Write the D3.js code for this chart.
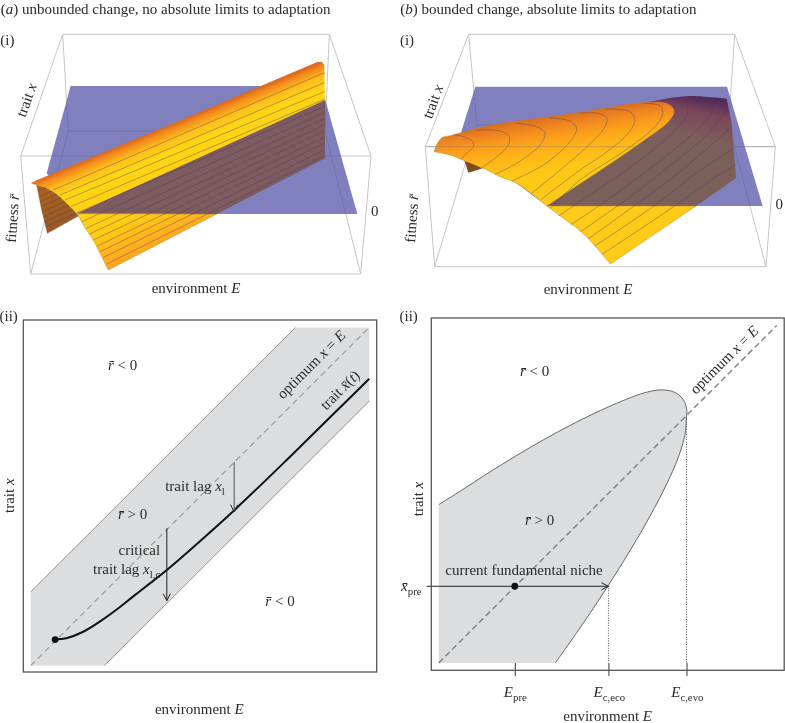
<!DOCTYPE html>
<html>
<head>
<meta charset="UTF-8">
<script src="https://d3js.org/d3.v7.min.js"></script>
<style>
	html, body { margin: 0; padding: 0; background: #fff; }
	svg { display: block; filter: blur(0.35px); }
	text { font-family: "Liberation Serif", serif; fill: #2b2b2b; }
</style>
</head>
<body>
<svg id="chart" width="785" height="723"></svg>
<script>
// ---- (ii) panels, in units of environment E and trait x (0-100 along the optimum) ----
var optimumE = [0, 100];
var bandE = [0, 0, 78.2, 100, 100, 21.8];
var bandX = [0, 21.8, 100, 100, 78.2, 0];
var traitE = [7.2, 10.5, 15.5, 20.4, 25.3, 30.2, 35.2, 40.1, 50, 60.3, 75.6, 89.4, 100];
var traitX = [7.7, 8.1, 10, 13, 16.5, 20.4, 24.3, 28.2, 36.8, 46.1, 60.8, 74.4, 84.8];
var lagE = [60.1, 40.2];
var lagTop = [60.2, 40.6];
var lagBottom = [45.5, 19.2];

var nicheE = [0, 5.9, 15.8, 25.6, 35.5, 45.3, 55.2, 61.1, 66, 70, 72.4, 73.4, 73.3, 72.9, 70.9, 67, 60.1, 50.2, 41.4, 34.5];
var nicheX = [46.9, 50.6, 57, 63, 68.6, 73.6, 78, 80.1, 80.9, 80.1, 77.9, 74.8, 73, 67.9, 61, 52.1, 39.2, 23, 9.8, 0];
var ePre = 22.5, eEco = 50.2, eEvo = 73.3;
var xPre = 22.7, xPreStart = -3.6;
var envTicks = [ePre, eEco, eEvo];
var critX = [23, 73];

// ---- (i) panels, outlines on a 3x reading grid ----
var boxA = { back: [[188,103],[988,103]], front: [[62,468],[1113,468]], bottom: [[92,822],[1082,822]], floor: [[205,393],[975,393]] };
var boxB = { back: [[230,103],[1028,103]], front: [[100,440],[1150,440]], bottom: [[128,800],[1122,800]], floor: [[255,375],[1010,375]] };
var planeA = [[212,258],[964,258],[1072,642],[232,642],[140,520]];
var planeB = [[250,260],[1005,260],[1112,618],[465,618],[200,420]];

var aUpper = [[93,550],[110,541],[520,370],[950,187],[965,185],[973,195],[975,300],[232,640],[218,628],[200,610],[180,590],[160,575],[135,562],[110,555]];
var aUnder = [[232,640],[975,300],[975,475],[650,642]];
var aFront = [[232,640],[650,642],[325,810],[300,760],[280,720],[270,705],[258,688],[245,665]];
var aCap = [[110,555],[135,562],[160,575],[180,590],[200,610],[218,628],[235,648],[142,700],[125,630]];
var aStripeStart = [[160,570],[180,585],[195,600],[212,620],[232,638],[245,665],[258,685],[268,702],[280,720],[292,738],[300,755],[310,772],[320,792]];
var aStripeEnd = [218,248,275,298,320,338,356,375,393,412,430,450,468];
var aCapStripeL = [[114,575],[118,590],[121,605],[124,620],[128,635],[131,650],[134,665],[138,680]];
var aCapStripeR = [514,530,547,563,580,597,613,630];

var bTop = [[126,455],[135,432],[152,412],[174,407],[274,380],[374,363],[474,350],[564,337],[664,320],[764,307],[824,310],[846,330],[834,360],[764,365],[744,430],[664,485],[564,551],[464,618]];
bTop.splice(13, 1);
var bEdge = [[464,618],[374,550],[324,530],[274,505],[224,485],[174,465],[126,455]];
var bUnder = [[464,618],[764,307],[820,296],[864,290],[904,288],[1004,296],[1019,370],[1032,535],[912,618]];
var bFront = [[464,618],[912,618],[655,792],[620,750],[584,710],[550,680],[514,655],[490,637]];
var bCap = [[216,478],[272,505],[229,518]];
var bContours = [
	[[184,403],[214,410],[242,425],[244,440],[224,460],[209,477]],
	[[254,390],[324,393],[352,410],[349,435],[309,475],[269,503]],
	[[374,370],[434,380],[459,400],[444,435],[374,490],[309,523]],
	[[474,354],[534,363],[554,385],[534,425],[454,495],[359,543]],
	[[564,340],[619,340],[644,355],[639,380],[574,450],[419,580]],
	[[644,327],[714,335],[729,360],[704,405],[624,470],[564,510],[448,598]],
	[[754,310],[804,317],[812,340],[789,380],[694,455],[564,540],[475,625]],
	[[864,293],[884,310],[884,345],[844,395],[744,480],[564,605],[500,648]],
	[[924,290],[959,305],[959,340],[914,390],[794,490],[624,615],[535,675]],
	[[1004,330],[944,405],[824,505],[694,605],[566,695]],
	[[1014,385],[864,515],[744,605],[588,717]],
	[[1025,445],[904,525],[804,605],[608,738]],
	[[1030,495],[964,535],[874,600],[630,763]]
];

// ---- labels: [x, y, angle, anchor, parts], on the same reading grid ----
var rbar = "r\u0304", xbar = "x\u0304";
var labelsA = [
	[2, 27, 0, "start", [["("], ["a","i"], [") unbounded change, no absolute limits to adaptation"]]],
	[22, 122, 0, "middle", [["(i)"]]],
	[80, 300, -70, "middle", [["trait "], ["x","i"]]],
	[38, 655, -86, "middle", [["fitness "], [rbar,"i"]]],
	[1124, 633, 0, "middle", [["0"]]],
	[588, 866, 0, "middle", [["environment "], ["E","i"]]]
];
var labelsB = [
	[25, 27, 0, "start", [["("], ["b","i"], [") bounded change, absolute limits to adaptation"]]],
	[45, 122, 0, "middle", [["(i)"]]],
	[123, 305, -70, "middle", [["trait "], ["x","i"]]],
	[60, 655, -86, "middle", [["fitness "], [rbar,"i"]]],
	[1162, 612, 0, "middle", [["0"]]],
	[588, 868, 0, "middle", [["environment "], ["E","i"]]]
];
var labelsAii = [
	[26, 950, 0, "middle", [["(ii)"]]],
	[368, 1095, 0, "middle", [[rbar,"i"], [" < 0"]]],
	[398, 1543, 0, "middle", [[rbar,"i"], [" > 0"]]],
	[840, 1803, 0, "middle", [[rbar,"i"], [" < 0"]]],
	[934, 1094, -45, "middle", [["optimum "], ["x","i"], [" = "], ["E","i"]]],
	[1020, 1170, -45, "middle", [["trait "], [xbar,"i"], ["("], ["t","i"], [")"]]],
	[585, 1458, 0, "middle", [["trait lag "], ["x","i"], ["l","sub"]]],
	[418, 1652, 0, "middle", [["critical"]]],
	[380, 1708, 0, "middle", [["trait lag "], ["x","i"], ["l,c","sub"]]],
	[28, 1487, -90, "middle", [["trait "], ["x","i"]]],
	[598, 2127, 0, "middle", [["environment "], ["E","i"]]]
];
var labelsBii = [
	[50, 950, 0, "middle", [["(ii)"]]],
	[428, 1115, 0, "middle", [[rbar,"i"], [" < 0"]]],
	[443, 1562, 0, "middle", [[rbar,"i"], [" > 0"]]],
	[396, 1711, 0, "middle", [["current fundamental niche"]]],
	[997, 1080, -45, "middle", [["optimum "], ["x","i"], [" = "], ["E","i"]]],
	[58, 1759, 0, "middle", [[xbar,"i"], ["pre","sub"]]],
	[370, 2077, 0, "middle", [["E","i"], ["pre","sub"]]],
	[652, 2077, 0, "middle", [["E","i"], ["c,eco","sub"]]],
	[886, 2077, 0, "middle", [["E","i"], ["c,evo","sub"]]],
	[647, 2148, 0, "middle", [["environment "], ["E","i"]]],
	[80, 1497, -90, "middle", [["trait "], ["x","i"]]]
];

var svg = d3.select("#chart");
var defs = svg.append("defs");

var gridY = d3.scaleLinear().domain([0, 2169]).range([0, 723]);
var gridXa = d3.scaleLinear().domain([0, 1176]).range([0, 392]);
var gridXb = d3.scaleLinear().domain([0, 1179]).range([392, 785]);

var arrow = defs.append("marker").attr("id", "open").attr("viewBox", "-8 -5 9 10")
	.attr("refX", 0).attr("refY", 0).attr("markerUnits", "userSpaceOnUse")
	.attr("markerWidth", 9).attr("markerHeight", 10).attr("orient", "auto");
arrow.append("path").attr("d", "M-7,-3.6L0,0L-7,3.6").attr("fill", "none").attr("stroke", "#222").attr("stroke-width", 1);

function gradient(id, gx, pts, stops) {
	var g = defs.append("linearGradient").attr("id", id).attr("gradientUnits", "userSpaceOnUse")
		.attr("x1", gx(pts[0])).attr("y1", gridY(pts[1])).attr("x2", gx(pts[2])).attr("y2", gridY(pts[3]));
	stops.forEach(function(s) { g.append("stop").attr("offset", s[0]).attr("stop-color", s[1]); });
}

gradient("aGrad", gridXa, [500, 380, 631, 694], [[0, "#dd6a1e"], [0.04, "#f28a1c"], [0.12, "#ffbe1a"], [0.22, "#ffd614"], [0.65, "#ffcb14"], [0.85, "#ffb01e"], [1, "#fba020"]]);
gradient("aCapGrad", gridXa, [120, 560, 180, 690], [[0, "#b0621f"], [1, "#93592f"]]);
gradient("bGrad", gridXb, [480, 345, 526, 641], [[0, "#d96c1e"], [0.1, "#ee8420"], [0.2, "#fa9a1c"], [0.35, "#ffb418"], [0.55, "#ffc816"], [1, "#ffcb18"]]);
gradient("bUnderGrad", gridXb, [900, 290, 860, 500], [[0, "#552a58"], [0.2, "#7c465a"], [0.55, "#7c5e5a"], [1, "#7b6059"]]);

function poly(g, gx, pts, fill) {
	var line = d3.line().x(function(d) { return gx(d[0]); }).y(function(d) { return gridY(d[1]); });
	return g.append("path").attr("d", line(pts) + "Z").attr("fill", fill);
}

function wireBack(g, gx, box) {
	var segs = [box.back, box.floor, box.bottom,
		[box.back[0], box.floor[0]], [box.back[1], box.floor[1]],
		[box.floor[0], box.bottom[0]], [box.floor[1], box.bottom[1]],
		[box.back[0], box.front[0]], [box.back[1], box.front[1]],
		[box.front[0], box.bottom[0]], [box.front[1], box.bottom[1]], box.front];
	g.selectAll("line.wire").data(segs).enter().append("line").attr("class", "wire")
		.attr("x1", function(d) { return gx(d[0][0]); }).attr("y1", function(d) { return gridY(d[0][1]); })
		.attr("x2", function(d) { return gx(d[1][0]); }).attr("y2", function(d) { return gridY(d[1][1]); })
		.attr("stroke", "#c6c6c8").attr("stroke-width", 1);
}

function writeLabels(gx, list) {
	var size = 15;
	var t = svg.append("g").selectAll("text").data(list).enter().append("text")
		.attr("text-anchor", function(d) { return d[3]; })
		.attr("font-size", size)
		.attr("transform", function(d) { return "translate(" + gx(d[0]) + "," + gridY(d[1]) + ") rotate(" + d[2] + ")"; })
		.attr("y", size * 0.32);
	t.each(function(d) {
		var el = d3.select(this), low = false;
		d[4].forEach(function(p) {
			var s = el.append("tspan").text(p[0]);
			if (p[1] == "i") s.attr("font-style", "italic");
			if (p[1] == "sub") { s.attr("font-size", size * 0.72).attr("dy", 4); low = true; }
			else if (low) { s.attr("dy", -4); low = false; }
		});
	});
}

// ---- (a)(i) ----
var a3 = svg.append("g");
wireBack(a3, gridXa, boxA);
poly(a3, gridXa, planeA, "rgba(85,85,170,0.75)");
poly(a3, gridXa, aUnder, "#7d5a5e");
poly(a3, gridXa, aCap, "url(#aCapGrad)").attr("stroke", "#8a5526").attr("stroke-width", 0.4);
poly(a3, gridXa, aUpper, "url(#aGrad)");
poly(a3, gridXa, aFront, "url(#aGrad)").attr("stroke", "#b88a30").attr("stroke-width", 0.5);

defs.append("clipPath").attr("id", "aCapClip").append("path")
	.attr("d", d3.line().x(function(d) { return gridXa(d[0]); }).y(function(d) { return gridY(d[1]); })(aCap) + "Z");
a3.append("g").attr("clip-path", "url(#aCapClip)").selectAll("line").data(aCapStripeL).enter().append("line")
	.attr("x1", function(d) { return gridXa(d[0]); }).attr("y1", function(d) { return gridY(d[1]); })
	.attr("x2", gridXa(250)).attr("y2", function(d, i) { return gridY(aCapStripeR[i]); })
	.attr("stroke", "#7a4a22").attr("stroke-width", 0.7);

a3.append("g").selectAll("line").data(aStripeStart).enter().append("line")
	.attr("x1", function(d) { return gridXa(d[0]); }).attr("y1", function(d) { return gridY(d[1]); })
	.attr("x2", gridXa(973)).attr("y2", function(d, i) { return gridY(aStripeEnd[i]); })
	.attr("stroke", "rgba(70,60,110,0.5)").attr("stroke-width", 0.8);
a3.append("line").attr("x1", gridXa(232)).attr("y1", gridY(641)).attr("x2", gridXa(650)).attr("y2", gridY(641))
	.attr("stroke", "rgba(70,60,110,0.5)").attr("stroke-width", 0.5);

// ---- (b)(i) ----
var b3 = svg.append("g");
wireBack(b3, gridXb, boxB);
poly(b3, gridXb, planeB, "rgba(85,85,170,0.75)");
poly(b3, gridXb, bCap, "#7e4a1e");
var smooth = d3.line().x(function(d) { return gridXb(d[0]); }).y(function(d) { return gridY(d[1]); }).curve(d3.curveCatmullRom.alpha(0.5));
b3.append("path").attr("d", smooth(bUnder.slice(1, 6)) + "L" + bUnder.slice(6).concat([bUnder[0]]).map(function(d) { return gridXb(d[0]) + "," + gridY(d[1]); }).join("L") + "Z")
	.attr("fill", "url(#bUnderGrad)");
poly(b3, gridXb, bFront, "url(#bGrad)").attr("stroke", "#b88a30").attr("stroke-width", 0.5);
b3.append("path").attr("d", smooth(bTop) + "L" + smooth(bEdge).slice(1) + "Z")
	.attr("fill", "url(#bGrad)").attr("stroke", "#b07f3a").attr("stroke-width", 0.4);
b3.append("g").selectAll("path").data(bContours).enter().append("path")
	.attr("d", smooth).attr("fill", "none")
	.attr("stroke", "rgba(70,60,100,0.5)").attr("stroke-width", 0.8);
b3.append("line").attr("x1", gridXb(boxB.front[0][0])).attr("y1", gridY(boxB.front[0][1])).attr("x2", gridXb(boxB.front[1][0])).attr("y2", gridY(boxB.front[1][1]))
	.attr("stroke", "rgba(110,110,120,0.4)").attr("stroke-width", 0.8);

// ---- (a)(ii) ----
var xA = d3.scaleLinear().domain([-2.2, 102.2]).range([23.3, 376.7]);
var yA = d3.scaleLinear().domain([-1.9, 102.2]).range([672, 320]);
var pA = svg.append("g");
pA.append("path").attr("d", d3.line()(bandE.map(function(e, i) { return [xA(e), yA(bandX[i])]; })) + "Z")
	.attr("fill", "#dcddde");
pA.append("path").attr("d", d3.line()([[xA(bandE[1]), yA(bandX[1])], [xA(bandE[2]), yA(bandX[2])]])).attr("stroke", "#777").attr("stroke-width", 0.8);
pA.append("path").attr("d", d3.line()([[xA(bandE[4]), yA(bandX[4])], [xA(bandE[5]), yA(bandX[5])]])).attr("stroke", "#777").attr("stroke-width", 0.8);
pA.append("line").attr("x1", xA(optimumE[0])).attr("y1", yA(optimumE[0])).attr("x2", xA(optimumE[1])).attr("y2", yA(optimumE[1]))
	.attr("stroke", "#98999b").attr("stroke-width", 1.1).attr("stroke-dasharray", "6,4");
pA.append("path").attr("fill", "none").attr("stroke", "#111").attr("stroke-width", 2)
	.attr("d", d3.line().x(function(d, i) { return xA(d); }).y(function(d, i) { return yA(traitX[i]); }).curve(d3.curveCatmullRom.alpha(0.5))(traitE));
pA.append("circle").attr("cx", xA(traitE[0])).attr("cy", yA(traitX[0])).attr("r", 3.4).attr("fill", "#111");
pA.selectAll("line.lag").data(lagE).enter().append("line").attr("class", "lag")
	.attr("x1", function(d) { return xA(d); }).attr("x2", function(d) { return xA(d); })
	.attr("y1", function(d, i) { return yA(lagTop[i]); }).attr("y2", function(d, i) { return yA(lagBottom[i]); })
	.attr("stroke", function(d, i) { return i == 0 ? "#555" : "#222"; }).attr("stroke-width", 1)
	.attr("marker-end", "url(#open)");
pA.append("rect").attr("x", xA(-2.2)).attr("y", yA(102.2)).attr("width", xA(102.2) - xA(-2.2)).attr("height", yA(-1.9) - yA(102.2))
	.attr("fill", "none").attr("stroke", "#555").attr("stroke-width", 1.3);

// ---- (b)(ii) ----
var xB = d3.scaleLinear().domain([-2.2, 102.2]).range([431.3, 784.2]);
var yB = d3.scaleLinear().domain([-2.2, 102.2]).range([670.3, 318]);
var pB = svg.append("g");
var nicheCurve = d3.line().x(function(d) { return xB(d); }).y(function(d, i) { return yB(nicheX[i]); }).curve(d3.curveCatmullRom.alpha(0.5));
pB.append("path").attr("d", nicheCurve(nicheE) + "L" + xB(0) + "," + yB(0) + "Z").attr("fill", "#dcddde");
pB.append("path").attr("d", nicheCurve(nicheE)).attr("fill", "none").attr("stroke", "#666").attr("stroke-width", 1);
pB.append("line").attr("x1", xB(optimumE[0])).attr("y1", yB(optimumE[0])).attr("x2", xB(optimumE[1])).attr("y2", yB(optimumE[1]))
	.attr("stroke", "#858688").attr("stroke-width", 1.5).attr("stroke-dasharray", "6,3.5");
pB.selectAll("line.crit").data([eEco, eEvo]).enter().append("line").attr("class", "crit")
	.attr("x1", function(d) { return xB(d); }).attr("x2", function(d) { return xB(d); })
	.attr("y1", function(d, i) { return yB(critX[i]); }).attr("y2", yB(0))
	.attr("stroke", "#555").attr("stroke-width", 1).attr("stroke-dasharray", "1,1.5");
pB.append("line").attr("x1", xB(xPreStart)).attr("x2", xB(eEco)).attr("y1", yB(xPre)).attr("y2", yB(xPre))
	.attr("stroke", "#222").attr("stroke-width", 1).attr("marker-end", "url(#open)");
pB.append("circle").attr("cx", xB(ePre)).attr("cy", yB(xPre)).attr("r", 3.4).attr("fill", "#111");
var ticksB = pB.append("g").attr("transform", "translate(0," + yB(0) + ")")
	.call(d3.axisBottom(xB).tickValues(envTicks).tickSize(13).tickFormat(""));
ticksB.select(".domain").remove();
ticksB.selectAll("line").attr("stroke", "#333").attr("stroke-width", 1);
pB.append("rect").attr("x", xB(-2.2)).attr("y", yB(102.2)).attr("width", xB(102.2) - xB(-2.2)).attr("height", yB(-2.2) - yB(102.2))
	.attr("fill", "none").attr("stroke", "#555").attr("stroke-width", 1.3);

writeLabels(gridXa, labelsA);
writeLabels(gridXb, labelsB);
writeLabels(gridXa, labelsAii);
writeLabels(gridXb, labelsBii);
</script>
</body>
</html>
